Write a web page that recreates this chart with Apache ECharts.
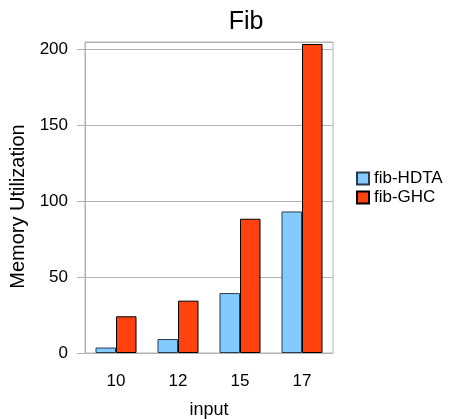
<!DOCTYPE html>
<html>
<head>
<meta charset="utf-8">
<script src="https://cdn.jsdelivr.net/npm/echarts@6/dist/echarts.min.js"></script>
<style>
    html, body { margin: 0; padding: 0; background: #fff; }
    #chart { width: 449px; height: 419px; }
</style>
</head>
<body>
<div id="chart"></div>
<script>
// 数据
var categories = ['10', '12', '15', '17'];
var hdtaValues = [3.6, 9.2, 39.5, 93.3];
var ghcValues = [24.2, 34.5, 88.5, 203.7];

var font = 'Liberation Sans';
var chart = echarts.init(document.getElementById('chart'));
var option = {
    animation: false,
    textStyle: { fontFamily: font },
    title: {
        text: 'Fib',
        left: 241,
        top: 5,
        textAlign: 'center',
        textStyle: { fontFamily: font, fontSize: 25, fontWeight: 'normal', color: '#000' }
    },
    legend: {
        orient: 'vertical',
        left: 351,
        top: 165,
        icon: 'rect',
        itemWidth: 12,
        itemHeight: 12,
        itemGap: 2,
        textStyle: { fontFamily: font, fontSize: 17, color: '#000' },
        data: ['fib-HDTA', 'fib-GHC']
    },
    grid: {
        left: 85,
        right: 116,
        top: 42,
        bottom: 66,
        outerBoundsMode: 'none',
        containLabel: false,
        show: true,
        borderColor: '#b3b3b3',
        borderWidth: 1
    },
    xAxis: {
        type: 'category',
        data: categories,
        name: 'input',
        nameLocation: 'middle',
        nameGap: 48,
        nameTextStyle: { fontFamily: font, fontSize: 18, color: '#000', verticalAlign: 'top' },
        axisLine: { lineStyle: { color: '#b3b3b3' } },
        axisTick: { alignWithLabel: true, length: 5, lineStyle: { color: '#b3b3b3' } },
        axisLabel: { margin: 20, fontSize: 17, color: '#000', fontFamily: font }
    },
    yAxis: {
        type: 'value',
        min: 0,
        max: 205,
        interval: 50,
        name: 'Memory Utilization',
        nameLocation: 'middle',
        nameGap: 53,
        nameTextStyle: { fontFamily: font, fontSize: 20, color: '#000', padding: [0, 18, 0, 0] },
        axisLine: { show: true, lineStyle: { color: '#b3b3b3' } },
        axisTick: { show: true, length: 8, lineStyle: { color: '#b3b3b3' } },
        axisLabel: { margin: 17, fontSize: 17, color: '#000', fontFamily: font, showMaxLabel: false },
        splitLine: { lineStyle: { color: '#b3b3b3' } }
    },
    series: [
        {
            name: 'fib-HDTA',
            type: 'bar',
            data: hdtaValues,
            barWidth: 20.5,
            barGap: '0%',
            itemStyle: { color: '#83caff', borderColor: '#2b3b4f', borderWidth: 1 }
        },
        {
            name: 'fib-GHC',
            type: 'bar',
            data: ghcValues,
            barWidth: 20.5,
            barGap: '0%',
            itemStyle: { color: '#ff420e', borderColor: '#000', borderWidth: 1 }
        }
    ]
};
chart.setOption(option);
</script>
</body>
</html>
